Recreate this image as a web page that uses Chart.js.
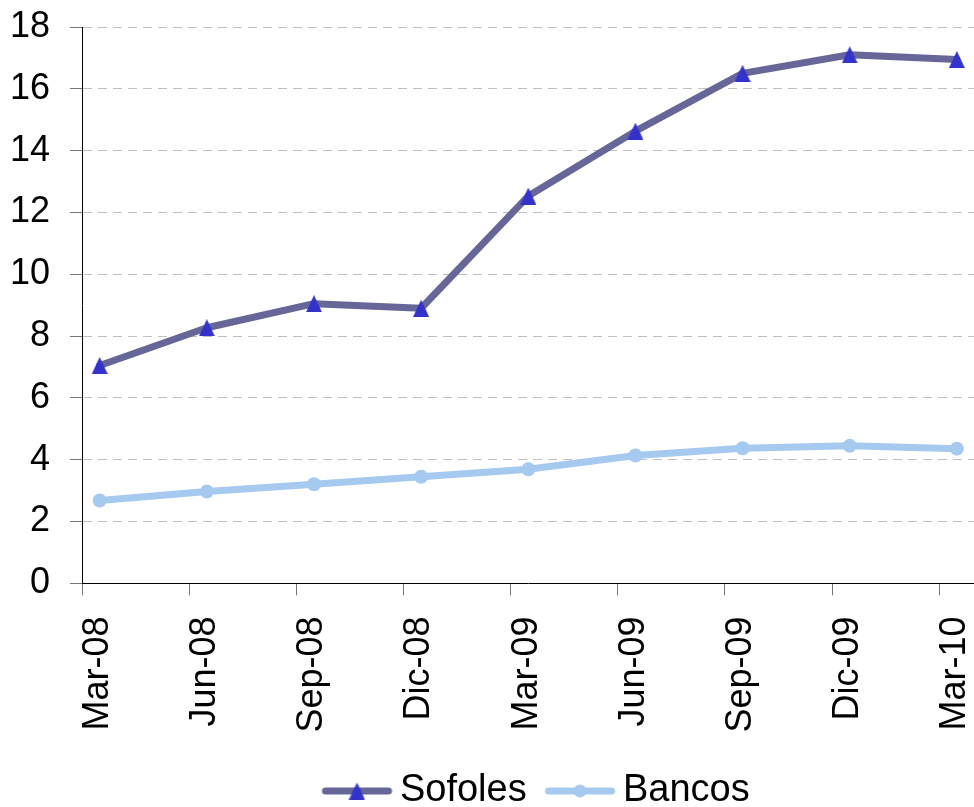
<!DOCTYPE html>
<html>
<head>
<meta charset="utf-8">
<title>Sofoles vs Bancos</title>
<script src="https://cdn.jsdelivr.net/npm/chart.js@4/dist/chart.umd.min.js"></script>
<style>
  html, body { margin: 0; padding: 0; background: #ffffff; overflow: hidden; }
  #wrap { width: 974px; height: 807px; overflow: hidden; }
  canvas { display: block; }
</style>
</head>
<body>
<div id="wrap"><canvas id="chart" width="974" height="807"></canvas></div>
<script>
// Quarterly series
const categories = ['Mar-08', 'Jun-08', 'Sep-08', 'Dic-08', 'Mar-09', 'Jun-09', 'Sep-09', 'Dic-09', 'Mar-10'];
const sofoles = [7.05, 8.27, 9.05, 8.9, 12.53, 14.63, 16.5, 17.1, 16.95];
const bancos = [2.68, 2.97, 3.21, 3.45, 3.69, 4.14, 4.37, 4.45, 4.36];
const yTickValues = [0, 2, 4, 6, 8, 10, 12, 14, 16, 18];
const seriesNames = ['Sofoles', 'Bancos'];

const FONT = "'Liberation Sans', Arial, Helvetica, sans-serif";
const TICK_SHIFT = 0.165;   // category tick marks sit a little left of each point

const SOFOLES_LINE = '#666699';
const SOFOLES_MARK = '#3333CC';
const BANCOS_LINE = '#A5C9EF';

// Upright triangle marker as a small canvas
function triangleMarker(color, w, h) {
  const c = document.createElement('canvas');
  c.width = w; c.height = h;
  const g = c.getContext('2d');
  g.fillStyle = color;
  g.beginPath();
  g.moveTo(w / 2, 0);
  g.lineTo(w, h);
  g.lineTo(0, h);
  g.closePath();
  g.fill();
  return c;
}

// Legend swatch: short line with the series marker in the middle
function legendSwatch(lineColor, markerFn) {
  const W = 98, H = 22;
  const x0 = 27.35, x1 = 97.35, lw = 7;
  const c = document.createElement('canvas');
  c.width = W; c.height = H;
  const g = c.getContext('2d');
  g.strokeStyle = lineColor;
  g.lineWidth = lw;
  g.lineCap = 'round';
  g.beginPath();
  g.moveTo(x0 + lw / 2, H / 2);
  g.lineTo(x1 - lw / 2, H / 2);
  g.stroke();
  markerFn(g, (x0 + x1) / 2, H / 2);
  return c;
}

const triMark = triangleMarker(SOFOLES_MARK, 16, 17);
const legendIcons = [
  legendSwatch(SOFOLES_LINE, (g, cx, cy) => { g.drawImage(triMark, cx - 8, cy - 8.5); }),
  legendSwatch(BANCOS_LINE, (g, cx, cy) => {
    g.fillStyle = BANCOS_LINE; g.beginPath(); g.arc(cx, cy, 6.5, 0, Math.PI * 2); g.fill();
  })
];

new Chart(document.getElementById('chart'), {
  type: 'line',
  data: {
    datasets: [
      {
        label: seriesNames[0],
        data: sofoles.map((v, i) => ({ x: i, y: v })),
        borderColor: SOFOLES_LINE,
        backgroundColor: SOFOLES_MARK,
        borderWidth: 7,
        borderJoinStyle: 'round',
        borderCapStyle: 'round',
        tension: 0,
        pointStyle: triMark,
        pointRadius: 9,
        pointHoverRadius: 9
      },
      {
        label: seriesNames[1],
        data: bancos.map((v, i) => ({ x: i, y: v })),
        borderColor: BANCOS_LINE,
        backgroundColor: BANCOS_LINE,
        borderWidth: 7,
        borderJoinStyle: 'round',
        borderCapStyle: 'round',
        tension: 0,
        pointStyle: 'circle',
        pointRadius: 7,
        pointBorderWidth: 0,
        pointBackgroundColor: BANCOS_LINE,
        pointHoverRadius: 7
      }
    ]
  },
  options: {
    responsive: false,
    animation: false,
    devicePixelRatio: 1,
    layout: { autoPadding: false, padding: { top: 27, left: 10, right: 0, bottom: -13 } },
    scales: {
      x: {
        type: 'linear',
        min: -TICK_SHIFT,
        max: 8.16,
        afterBuildTicks: s => { s.ticks = categories.map((_, i) => ({ value: i - TICK_SHIFT })); },
        afterFit: s => { s.height = 186; s.paddingLeft = 0; s.paddingRight = 0; },
        grid: { drawOnChartArea: false, drawTicks: true, tickLength: 12, tickColor: '#777777', tickWidth: 1 },
        border: { display: true, color: '#000000', width: 1, z: 1 },
        ticks: {
          autoSkip: false, minRotation: 90, maxRotation: 90,
          padding: 21, labelOffset: 16,
          color: '#000000', font: { size: 36, family: FONT },
          callback: (v, i) => categories[i]
        }
      },
      y: {
        min: 0,
        max: 18,
        afterBuildTicks: s => { s.ticks = yTickValues.map(v => ({ value: v })); },
        afterFit: s => { s.width = 72; s.paddingTop = 0; s.paddingBottom = 0; },
        grid: {
          color: c => (c.tick && c.tick.value === 0) ? 'rgba(0,0,0,0)' : '#C0C0C0',
          lineWidth: 1, tickLength: 12, tickColor: '#777777', tickWidth: 1, tickBorderDash: []
        },
        border: { display: true, color: '#000000', width: 1, dash: [9, 6], z: 1 },
        ticks: {
          padding: 20, color: '#000000', font: { size: 36, family: FONT },
          callback: v => String(v)
        }
      }
    },
    plugins: {
      tooltip: { enabled: false },
      legend: {
        position: 'bottom',
        fullSize: false,
        labels: {
          usePointStyle: true,
          pointStyleWidth: 74.7,
          padding: 2.6,
          color: '#000000',
          font: { size: 38, family: FONT },
          generateLabels: chart => {
            const items = Chart.defaults.plugins.legend.labels.generateLabels(chart);
            items.forEach((it, i) => { it.pointStyle = legendIcons[i]; it.rotation = 0; });
            return items;
          }
        }
      }
    }
  }
});
</script>
</body>
</html>
